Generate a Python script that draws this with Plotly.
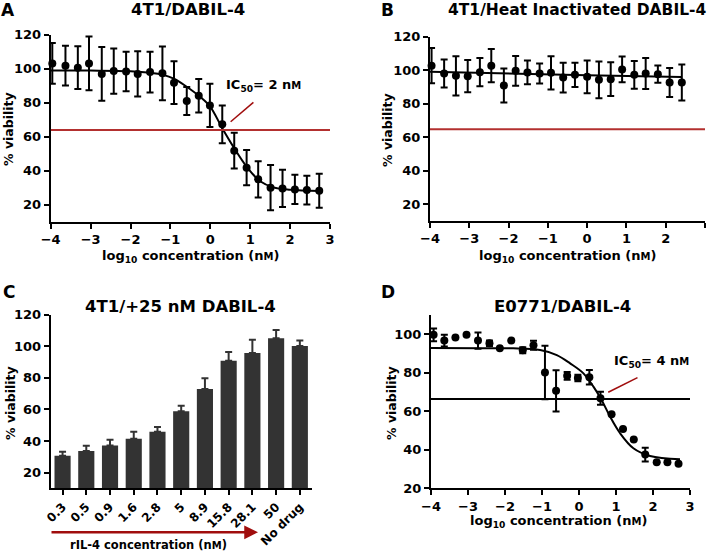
import plotly.graph_objects as go

# ---------------- data ----------------
# Panel A: 4T1/DABIL-4
xA = [-3.96, -3.63, -3.32, -3.04, -2.72, -2.42, -2.11, -1.82, -1.51, -1.20, -0.91, -0.59,
      -0.29, -0.01, 0.30, 0.60, 0.91, 1.20, 1.51, 1.81, 2.12, 2.42, 2.73]
yA = [103.1, 101.8, 100.6, 103.1, 96.9, 98.6, 98.4, 96.9, 98.0, 97.3, 91.8, 81.0,
      84.1, 78.4, 67.3, 51.8, 41.8, 34.9, 30.0, 29.6, 29.0, 28.6, 28.2]
errA = [12.0, 11.7, 12.6, 15.8, 15.8, 13.3, 11.6, 13.3, 12.0, 15.8, 12.6, 8.3,
        9.8, 12.7, 11.1, 10.5, 10.4, 10.6, 13.3, 10.9, 8.6, 8.5, 10.0]
fitA_x = [-4, -3, -2, -1.5, -1.2, -0.9, -0.6, -0.26, 0.0, 0.3, 0.58, 0.91, 1.25, 1.58, 2.0, 2.75]
fitA_y = [99.0, 98.9, 98.5, 97.6, 96.5, 94.0, 89.5, 83.5, 77.6, 65.0, 54.0, 42.4, 33.8, 30.2, 28.8, 28.1]
refA = 64.0

# Panel B: 4T1/Heat Inactivated DABIL-4
xB = [-3.96, -3.64, -3.34, -3.04, -2.73, -2.44, -2.12, -1.82, -1.52, -1.21, -0.92, -0.61,
      -0.31, 0.00, 0.30, 0.60, 0.89, 1.20, 1.49, 1.80, 2.10, 2.41]
yB = [102.7, 98.0, 96.6, 96.4, 98.8, 102.7, 90.8, 99.6, 98.6, 98.0, 98.4, 95.6,
      97.2, 96.0, 94.2, 94.6, 100.4, 97.2, 98.0, 97.6, 92.6, 92.6]
errB = [10.5, 8.3, 11.7, 9.6, 8.4, 9.9, 10.2, 8.9, 7.1, 6.0, 9.9, 8.9,
        7.2, 9.8, 11.0, 10.1, 7.7, 8.3, 9.2, 5.2, 8.7, 10.8]
fitB_x = [-4, 0, 2.4]
fitB_y = [99.0, 97.0, 95.9]
refB = 64.6

# Panel C: 4T1/+25 nM DABIL-4
catC = ["0.3", "0.5", "0.9", "1.6", "2.8", "5", "8.9", "15.8", "28.1", "50", "No drug"]
valC = [30.6, 33.7, 37.1, 41.4, 45.8, 58.9, 72.9, 90.8, 95.7, 105.0, 100.1]
errC = [2.5, 3.2, 3.6, 4.4, 3.0, 3.4, 6.9, 5.5, 8.4, 5.3, 3.6]

# Panel D: E0771/DABIL-4
xD = [-3.93, -3.64, -3.34, -3.04, -2.73, -2.42, -2.14, -1.83, -1.52, -1.23, -0.92, -0.62,
      -0.32, -0.03, 0.28, 0.58, 0.88, 1.19, 1.48, 1.79, 2.10, 2.39, 2.69]
yD = [99.7, 96.7, 98.3, 99.7, 96.7, 95.3, 92.7, 96.7, 91.7, 94.3, 80.1, 70.6,
      78.4, 77.3, 77.7, 66.8, 58.4, 50.8, 45.3, 37.5, 33.5, 33.5, 32.8]
errD = [3.3, 3.0, 0, 0, 4.2, 1.4, 0, 0, 1.5, 2.3, 13.9, 10.7,
        2.0, 1.7, 3.8, 3.4, 0, 0, 0, 3.6, 0, 0, 0]
fitD_x = [-4, -2.68, -1.78, -1.05, -0.6, -0.24, 0.12, 0.39, 0.61, 0.84, 1.11, 1.47, 1.92, 2.73]
fitD_y = [92.8, 92.7, 92.7, 91.8, 89.2, 84.9, 79.7, 72.8, 65.9, 57.2, 48.6, 40.8, 36.8, 35.1]
refD = 66.4

# ---------------- styling ----------------
W, H = 709, 552
FONT = "DejaVu Sans"
RED = "#B3302F"
DARKRED = "#A00D0D"
BARC = "#333333"
NM = "n<span style='font-size:10px'>M</span>"


def px(x):
    return x / W


def py(y):
    return 1 - y / H


fig = go.Figure()

def add_scatter(x, y, err, xa, ya):
    fig.add_trace(go.Scatter(
        x=x, y=y, mode="markers", xaxis=xa, yaxis=ya,
        marker=dict(color="black", size=8),
        error_y=dict(type="data", array=err, color="black", thickness=2, width=3.5),
        cliponaxis=False, showlegend=False, hoverinfo="skip"))

def add_fit(x, y, xa, ya):
    fig.add_trace(go.Scatter(
        x=x, y=y, mode="lines", xaxis=xa, yaxis=ya,
        line=dict(color="black", width=2, shape="spline", smoothing=1),
        showlegend=False, hoverinfo="skip"))

add_fit(fitA_x, fitA_y, "x", "y")
add_scatter(xA, yA, errA, "x", "y")
add_fit(fitB_x, fitB_y, "x2", "y2")
add_scatter(xB, yB, errB, "x2", "y2")

fig.add_trace(go.Bar(
    x=catC, y=valC, xaxis="x3", yaxis="y3", width=0.68,
    marker=dict(color=BARC, line=dict(width=0)),
    error_y=dict(type="data", symmetric=False, array=errC, arrayminus=[0] * len(errC),
                 color=BARC, thickness=2, width=3.5),
    showlegend=False, hoverinfo="skip"))

add_fit(fitD_x, fitD_y, "x4", "y4")
add_scatter(xD, yD, errD, "x4", "y4")

def axis_style(size=13):
    return dict(showline=True, linecolor="black", linewidth=2, ticks="outside",
                ticklen=5, tickwidth=2, tickcolor="black", showgrid=False, zeroline=False,
                automargin=False,
                tickfont=dict(family=FONT, size=size, color="black", weight="bold"))

YT = [20, 40, 60, 80, 100, 120]
layout = dict(
    template="none",
    width=W, height=H, margin=dict(l=0, r=0, t=0, b=0, pad=0),
    paper_bgcolor="white", plot_bgcolor="white",
    font=dict(family=FONT, color="black", weight="bold", size=13),
    xaxis=dict(domain=[px(50.7), px(330)], range=[-4, 3], dtick=1, anchor="y", **axis_style()),
    yaxis=dict(domain=[py(221.7), py(34.7)], range=[10, 120], tickvals=YT, anchor="x", **axis_style()),
    xaxis2=dict(domain=[px(430), px(705)], range=[-4, 3], dtick=1, anchor="y2", **axis_style()),
    yaxis2=dict(domain=[py(220.7), py(36.7)], range=[10, 120], tickvals=YT, anchor="x2", **axis_style()),
    xaxis3=dict(domain=[px(50.7), px(311.7)], range=[-0.5, 10.5], type="category",
                tickangle=-45, anchor="y3", **axis_style(12)),
    yaxis3=dict(domain=[py(488.3), py(314.7)], range=[10, 120], tickvals=YT, anchor="x3", **axis_style()),
    xaxis4=dict(domain=[px(431), px(690)], range=[-4, 3], dtick=1, anchor="y4", **axis_style()),
    yaxis4=dict(domain=[py(488.3), py(315.0)], range=[20, 110], tickvals=[20, 40, 60, 80, 100],
                anchor="x4", **axis_style()),
)
fig.update_layout(**layout)

# reference lines and pointers
fig.add_shape(type="line", xref="x", yref="y", x0=-4, x1=3, y0=refA, y1=refA,
              line=dict(color=RED, width=2))
fig.add_shape(type="line", xref="x", yref="y", x0=0.51, y0=68.8, x1=1.08, y1=80.2,
              line=dict(color=DARKRED, width=1.5))
fig.add_shape(type="line", xref="x2", yref="y2", x0=-4, x1=3, y0=refB, y1=refB,
              line=dict(color=RED, width=2))
fig.add_shape(type="line", xref="x4", yref="y4", x0=-4, x1=3, y0=refD, y1=refD,
              line=dict(color="black", width=2))
fig.add_shape(type="line", xref="x4", yref="y4", x0=0.79, y0=69.9, x1=1.58, y1=77.5,
              line=dict(color=DARKRED, width=1.5))

ann = []

def text(t, x, y, size, xanchor="center", textangle=0, xref="paper", yref="paper"):
    ann.append(dict(text=t, x=x, y=y, xref=xref, yref=yref, showarrow=False,
                    xanchor=xanchor, yanchor="middle", textangle=textangle, borderpad=0,
                    font=dict(family=FONT, size=size, color="black", weight="bold")))

# panel letters
text("A", px(8), py(10), 17)
text("B", px(387), py(10), 17)
text("C", px(9), py(292), 17)
text("D", px(388), py(292), 17)
# titles
text("4T1/DABIL-4", px(188), py(10), 16.5)
text("4T1/Heat Inactivated DABIL-4", px(707), py(10), 15.5, xanchor="right")
text("4T1/+25 nM DABIL-4", px(180), py(306.7), 16.5)
text("E0771/DABIL-4", px(562), py(306.7), 16.5)
# y titles
text("% viability", px(8), py(129), 12.5, textangle=-90)
text("% viability", px(388), py(130), 12.5, textangle=-90)
text("% viability", px(10), py(403), 12.5, textangle=-90)
text("% viability", px(391), py(403), 12.5, textangle=-90)
# x titles
xt = "log<sub>10</sub> concentration (" + NM + ")"
text(xt, px(190), py(256), 13)
text(xt, px(567), py(256), 13)
text(xt, px(558), py(521), 13)
text("rIL-4 concentration (" + NM + ")", px(148), py(545), 11.5)
# IC50 labels
text("IC<sub>50</sub>= 2 " + NM, 0.37, 90.4, 13, xanchor="left", xref="x", yref="y")
text("IC<sub>50</sub>= 4 " + NM, 0.93, 85.8, 13, xanchor="left", xref="x4", yref="y4")

# arrow in panel C
ann.append(dict(x=px(258), y=py(532.3), xref="paper", yref="paper", ax=-208, ay=0,
                axref="pixel", ayref="pixel", showarrow=True, arrowhead=2, arrowsize=1.1,
                arrowwidth=2.5, arrowcolor=DARKRED, text=""))

fig.update_layout(annotations=ann)
fig.write_html("out.html", config={"displayModeBar": False},
               post_script="document.body.style.margin='0';document.body.style.padding='0';")
